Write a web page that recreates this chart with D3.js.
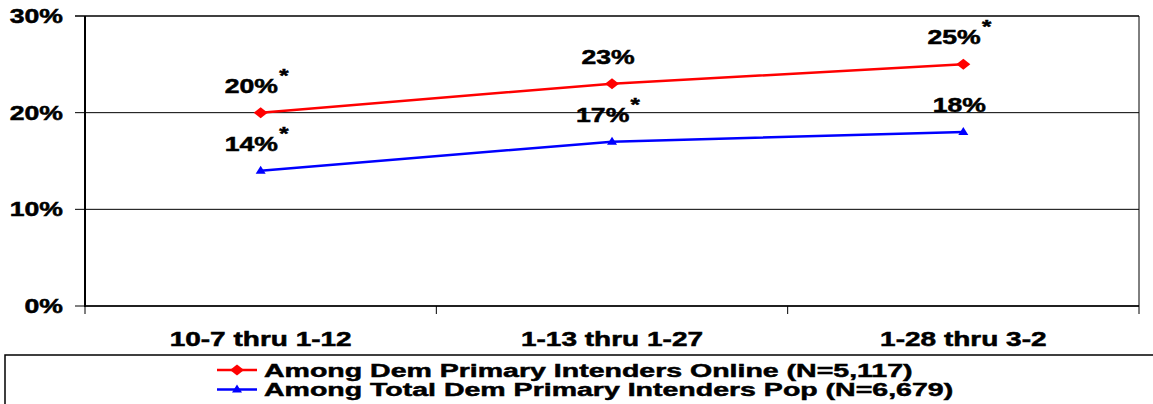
<!DOCTYPE html>
<html>
<head>
<meta charset="utf-8">
<script src="https://cdn.jsdelivr.net/npm/d3@7"></script>
<style>
body { margin: 0; background: #fff; }
text { font-family: Arial, "Liberation Sans", sans-serif; font-weight: bold; fill: #000; stroke: #000; stroke-width: 0.5px; }
</style>
</head>
<body>
<div id="chart"></div>
<script>
// chart data
var categories = ["10-7 thru 1-12", "1-13 thru 1-27", "1-28 thru 3-2"]
var onlineValues = [20, 23, 25]
var onlineStar = [true, false, true]
var totalValues = [14, 17, 18]
var totalStar = [true, true, false]
var yTicks = [0, 10, 20, 30]
var seriesNames = ["Among Dem Primary Intenders Online (N=5,117)", "Among Total Dem Primary Intenders Pop (N=6,679)"]

let width = 1153, height = 404
let plotLeft = 85, plotRight = 1139, plotTop = 16, plotBottom = 306

var svg = d3.select('#chart').append('svg')
	.attr('width', width)
	.attr('height', height)

var x = d3.scaleBand()
	.domain(categories)
	.range([plotLeft, plotRight])

var y = d3.scaleLinear()
	.domain([0, 30])
	.range([plotBottom, plotTop])

// gridlines + left ticks
svg.append('g')
	.selectAll('line')
	.data(yTicks)
	.enter()
	.append('line')
	.attr('x1', plotLeft - 10)
	.attr('x2', plotRight)
	.attr('y1', d => y(d))
	.attr('y2', d => y(d))
	.attr('stroke', '#000')
	.attr('stroke-width', d => d == 30 ? 1.5 : 1)

svg.append('g')
	.selectAll('text')
	.data(yTicks)
	.enter()
	.append('text')
	.attr('transform', d => 'translate(63,' + (y(d) + 7) + ') scale(1.33,1)')
	.attr('text-anchor', 'end')
	.style('font-size', '20px')
	.text(d => d + '%')

// frame
svg.append('line')
	.attr('x1', plotLeft).attr('x2', plotLeft)
	.attr('y1', plotTop).attr('y2', plotBottom + 1)
	.attr('stroke', '#000').attr('stroke-width', 2)

svg.append('line')
	.attr('x1', plotRight).attr('x2', plotRight)
	.attr('y1', plotTop).attr('y2', plotBottom)
	.attr('stroke', '#000').attr('stroke-width', 1)

svg.append('line')
	.attr('x1', plotLeft).attr('x2', plotRight)
	.attr('y1', plotBottom).attr('y2', plotBottom)
	.attr('stroke', '#000').attr('stroke-width', 1.5)

// bottom ticks at band edges
var edges = categories.map(d => x(d)).concat([plotRight])
svg.append('g')
	.selectAll('line')
	.data(edges)
	.enter()
	.append('line')
	.attr('x1', d => d).attr('x2', d => d)
	.attr('y1', plotBottom).attr('y2', plotBottom + 8)
	.attr('stroke', '#000').attr('stroke-width', 1)

svg.append('g')
	.selectAll('text')
	.data(categories)
	.enter()
	.append('text')
	.attr('transform', d => 'translate(' + (x(d) + x.bandwidth() / 2) + ',346) scale(1.4,1)')
	.attr('text-anchor', 'middle')
	.style('font-size', '20px')
	.text(d => d)

var line = d3.line()
	.x((d, i) => x(categories[i]) + x.bandwidth() / 2)
	.y(d => y(d))

var diamond = 'M0,-5.5L7,0L0,5.5L-7,0Z'
var triangle = 'M0,-5L5,3L-5,3Z'

function drawSeries(values, stars, color, shape){
	svg.append('path')
		.datum(values)
		.attr('d', line)
		.attr('fill', 'none')
		.attr('stroke', color)
		.attr('stroke-width', 2.5)

	svg.append('g')
		.selectAll('path')
		.data(values)
		.enter()
		.append('path')
		.attr('d', shape)
		.attr('transform', (d, i) => 'translate(' + (x(categories[i]) + x.bandwidth() / 2) + ',' + y(d) + ')')
		.attr('fill', color)

	var labels = svg.append('g')
		.selectAll('text')
		.data(values)
		.enter()
		.append('text')
		.attr('transform', (d, i) => 'translate(' + (x(categories[i]) + x.bandwidth() / 2 - 4) + ',' + (y(d) - 20) + ') scale(1.33,1)')
		.attr('text-anchor', 'middle')
		.style('font-size', '20px')
		.text(d => d + '%')

	labels.filter((d, i) => stars[i])
		.append('tspan')
		.attr('dy', -11)
		.attr('dx', 1)
		.style('font-size', '18px')
		.text('*')
}

drawSeries(onlineValues, onlineStar, '#ff0000', diamond)
drawSeries(totalValues, totalStar, '#0000ff', triangle)

// legend
svg.append('rect')
	.attr('x', 5)
	.attr('y', 355)
	.attr('width', 1160)
	.attr('height', 80)
	.attr('fill', 'none')
	.attr('stroke', '#000')
	.attr('stroke-width', 1.5)

var legendColors = ['#ff0000', '#0000ff']
var legendShapes = [diamond, triangle]

var legend = svg.append('g')
	.selectAll('g')
	.data(seriesNames)
	.enter()
	.append('g')
	.attr('transform', (d, i) => 'translate(0,' + (370 + i * 19.5) + ')')

legend.append('line')
	.attr('x1', 217).attr('x2', 257)
	.attr('stroke', (d, i) => legendColors[i])
	.attr('stroke-width', 2.5)

legend.append('path')
	.attr('d', (d, i) => legendShapes[i])
	.attr('transform', 'translate(237,0)')
	.attr('fill', (d, i) => legendColors[i])

legend.append('text')
	.attr('transform', 'translate(264,6.5) scale(1.5,1)')
	.style('font-size', '19px')
	.text(d => d)
</script>
</body>
</html>
